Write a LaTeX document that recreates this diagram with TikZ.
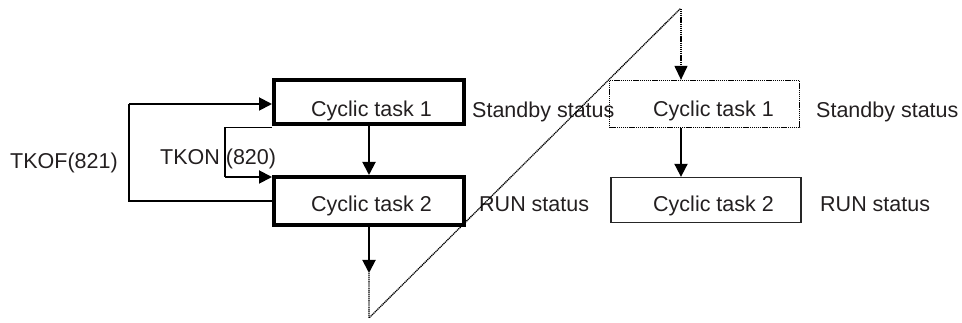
\documentclass[tikz,border=0pt]{standalone}
\usepackage{fontspec}
\setmainfont{Liberation Sans}
\usetikzlibrary{arrows.meta}
\definecolor{ink}{HTML}{231F20}
\tikzset{
  thickbox/.style={draw=black, line width=4pt, minimum width=190pt, inner sep=0pt},
  thinbox/.style={draw=black!85, line width=1.3pt, minimum width=190pt, inner sep=0pt},
  dotbox/.style={draw=black, line width=1.3pt, dash pattern=on 1.2pt off 0.7pt, minimum width=190pt, inner sep=0pt},
  txt/.style={anchor=base west, inner sep=0pt, text=ink, font=\fontsize{21.5}{25}\selectfont},
  conn/.style={line width=1.9pt, -{Triangle[length=13pt,width=13pt]}},
  plain/.style={line width=1.9pt},
  dotline/.style={line width=1.3pt, dash pattern=on 1.2pt off 0.7pt}
}
\begin{document}
\begin{tikzpicture}[x=1pt,y=-1pt]
\useasboundingbox (0,0) rectangle (962,323);
% left boxes
\node[thickbox, minimum height=44pt] (b1) at (369,102) {};
\node[thickbox, minimum height=48pt] (b2) at (369,201) {};
% right boxes
\node[dotbox, minimum height=47pt] (rb1) at (704.5,104) {};
\node[thinbox, minimum height=45pt] (rb2) at (706,200) {};
% labels
\node[txt] (l1) at (311,117) {Cyclic task 1};
\node[txt] (l2) at (311,212) {Cyclic task 2};
\node[txt] (s1) at (472,118) {Standby status};
\node[txt] (r1) at (479,211.5) {RUN status};
\node[txt] (rl1) at (653,117) {Cyclic task 1};
\node[txt] (rl2) at (653,212) {Cyclic task 2};
\node[txt] (rs1) at (816,118) {Standby status};
\node[txt] (rr1) at (820,212) {RUN status};
\node[txt] (tkof) at (10,169) {TKOF(821)};
\node[txt] (tkon) at (160,165) {TKON (820)};
% coordinates
\coordinate (ofx) at (129,0);
\coordinate (onx) at (225,0);
\coordinate (rx) at (681,0);
\coordinate (end) at (369,273);
\coordinate (bot) at (369,318);
\coordinate (top) at (680,9);
% left connectors
\draw[conn] (b1.south) -- (b2.north);
\draw[conn] (b2.south) -- (end);
\draw[plain] (b2.west) -- (ofx |- b2.west) -- (ofx |- {0,104}) coordinate (ofa);
\draw[conn] (ofa) -- (b1.west |- ofa);
\draw[plain] (b1.south west |- {0,127.5}) -- (onx |- {0,127.5}) -- (onx |- {0,177}) coordinate (ona);
\draw[conn] (ona) -- (b2.west |- ona);
% dotted transition
\draw[dotline] (end) -- (bot) -- (top) -- (rx |- top);
\draw[dotline, -{Triangle[length=14pt,width=13pt]}] (rx |- top) -- (rx |- rb1.north);
% right connector
\draw[conn] (rx |- rb1.south) -- (rx |- rb2.north);
\end{tikzpicture}
\end{document}
